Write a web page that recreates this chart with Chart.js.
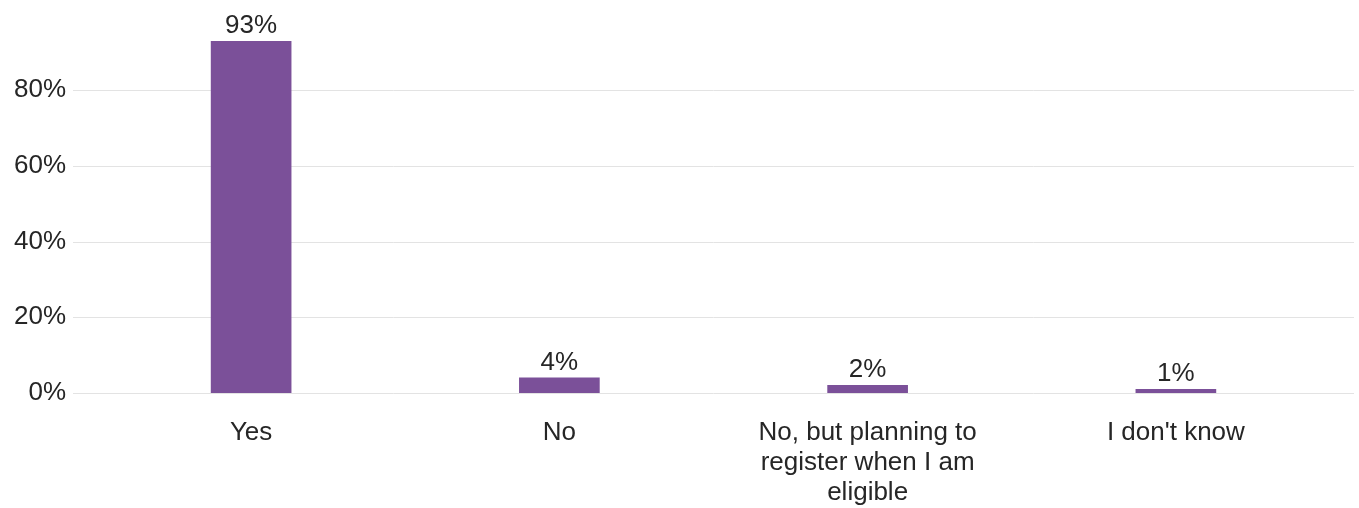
<!DOCTYPE html>
<html>
<head>
<meta charset="utf-8">
<script src="https://cdn.jsdelivr.net/npm/chart.js@4"></script>
<style>
  html, body { margin: 0; padding: 0; background: #fff; }
  #wrap { width: 1359px; height: 508px; }
</style>
</head>
<body>
<div id="wrap"><canvas id="chart" width="1359" height="508"></canvas></div>
<script>
const categories = ['Yes', 'No', ['No, but planning to', 'register when I am', 'eligible'], "I don't know"];
const shares = [93, 4, 2, 1];
const yTicks = [0, 20, 40, 60, 80];

const FONT = '"Liberation Sans", Arial, sans-serif';
const TEXT = '#262626';
const BAR = '#7b5099';
const GRID = '#e3e3e3';

// grid lines run a little past the plot on both sides
const wideGrid = {
  id: 'wideGrid',
  beforeDatasetsDraw(chart) {
    const { ctx, chartArea, scales } = chart;
    ctx.save();
    ctx.strokeStyle = GRID;
    ctx.lineWidth = 1;
    yTicks.forEach(v => {
      const y = Math.round(scales.y.getPixelForValue(v)) + 0.5;
      ctx.beginPath();
      ctx.moveTo(chartArea.left - 24, y);
      ctx.lineTo(chartArea.right + 24, y);
      ctx.stroke();
    });
    ctx.restore();
  }
};

// value labels above bars
const barLabels = {
  id: 'barLabels',
  afterDatasetsDraw(chart) {
    const { ctx } = chart;
    const meta = chart.getDatasetMeta(0);
    ctx.save();
    ctx.font = '26px ' + FONT;
    ctx.fillStyle = TEXT;
    ctx.textAlign = 'center';
    ctx.textBaseline = 'alphabetic';
    meta.data.forEach((bar, i) => {
      ctx.fillText(shares[i] + '%', bar.x, bar.y - 8);
    });
    ctx.restore();
  }
};

new Chart(document.getElementById('chart'), {
  type: 'bar',
  data: {
    labels: categories,
    datasets: [{
      data: shares,
      backgroundColor: BAR,
      barThickness: 80
    }]
  },
  options: {
    responsive: false,
    animation: false,
    layout: { padding: { top: 41, left: 14, right: 29, bottom: 0 } },
    plugins: {
      legend: { display: false },
      tooltip: { enabled: false }
    },
    scales: {
      x: {
        grid: { display: false, drawTicks: false },
        border: { display: false },
        afterFit: s => { s.height = 115; },
        ticks: {
          color: TEXT,
          font: { family: FONT, size: 26, lineHeight: 1.15 },
          padding: 25,
          maxRotation: 0,
          autoSkip: false
        }
      },
      y: {
        min: 0,
        max: 93,
        grid: { display: false, drawTicks: false },
        border: { display: false },
        afterFit: s => { s.width = 83; s.paddingTop = 0; s.paddingBottom = 0; },
        ticks: {
          stepSize: 20,
          includeBounds: false,
          color: TEXT,
          font: { family: FONT, size: 26 },
          padding: 31,
          callback: v => v + '%'
        }
      }
    }
  },
  plugins: [wideGrid, barLabels]
});
</script>
</body>
</html>
